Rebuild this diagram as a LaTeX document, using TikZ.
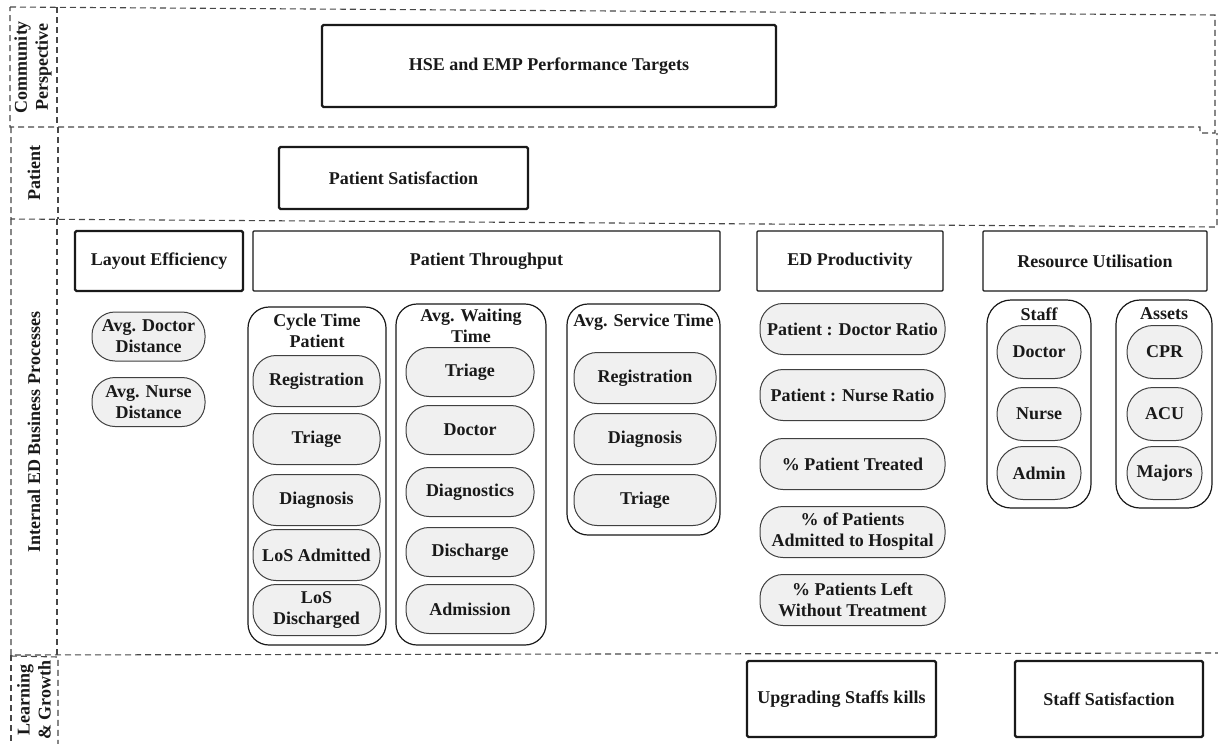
\documentclass[tikz,border=0pt]{standalone}
\usepackage{fontspec}
\setmainfont{Liberation Serif}
\begin{document}
\begin{tikzpicture}[x=1pt,y=-1pt,
  every node/.style={font=\fontsize{18}{21}\selectfont\bfseries, text=black!90, inner sep=0pt, align=center},
  band/.style={draw=black!72, line width=1.1pt, dash pattern=on 6pt off 4pt},
  heavybox/.style={draw=black!90, line width=2.2pt, rounded corners=1.5pt},
  lightbox/.style={draw=black!90, line width=1.3pt, rounded corners=1pt},
  group/.style={draw=black!90, line width=1.2pt, rounded corners=21pt},
  pill/.style={draw=black!75, line width=1pt, fill=black!6, rounded corners=23pt},
  lane/.style={rotate=90}]
\useasboundingbox (0,0) rectangle (1218,744);

% perspective bands
\draw[band] (10,7) -- (1215,15) -- (1215,133) -- (1200,133) -- (1200,127) -- (10,127) -- cycle;
\draw[band] (57,7) -- (57,127);
\draw[band] (11,127) -- (11,219) -- (1217,227) -- (1217,133);
\draw[band] (58,127) -- (58,219);
\draw[band] (11,219) -- (11,655) -- (1218,653);
\draw[band] (57,219) -- (57,655);
\draw[band] (11,655) -- (11,744);
\draw[band] (11,656) -- (58,657) -- (58,744);

% band titles
\node[lane] (lcom) at (33,67) {Community\\Perspective};
\node[lane] (lpat) at (34,173) {Patient};
\node[lane] (lint) at (34,432) {Internal ED Business Processes};
\node[lane] (llg)  at (34,700) {Learning\\\& Growth};

% objectives
\node[heavybox, minimum width=454, minimum height=82] (hse) at (549,66) {HSE and EMP Performance Targets};
\node[heavybox, minimum width=249, minimum height=62] (psat) at (403.5,178) {Patient Satisfaction};
\node[heavybox, minimum width=168, minimum height=60] (lay) at (159,261) {Layout Efficiency};
\node[lightbox, minimum width=467, minimum height=60] (thr) at (486.5,261) {Patient Throughput};
\node[lightbox, minimum width=186, minimum height=60] (edp) at (850,261) {ED Productivity};
\node[lightbox, minimum width=224, minimum height=60] (res) at (1095,261) {Resource Utilisation};
\node[heavybox, minimum width=189, minimum height=76] (upg) at (841.5,699) {Upgrading Staffs kills};
\node[heavybox, minimum width=188, minimum height=76] (ssat) at (1109,699) {Staff Satisfaction};

% layout measures
\node[pill, minimum width=113, minimum height=49] (ldoc) at (148.5,336.5) {Avg. Doctor\\Distance};
\node[pill, minimum width=113, minimum height=49] (lnur) at (148.5,402) {Avg. Nurse\\Distance};

% throughput groups
\node[group, minimum width=138, minimum height=338] (ct) at (317,476) {};
\node (ctt) at (317,331) {Cycle Time\\Patient};
\node[group, minimum width=150, minimum height=341] (wt) at (471,474.5) {};
\node (wtt) at (471,326) {Avg. Waiting\\Time};
\node[group, minimum width=153, minimum height=231] (st) at (643.5,419.5) {};
\node (stt) at (643.5,322) {Avg. Service Time};

\foreach \y/\t/\n in {381/Registration/1, 439/Triage/2, 500/Diagnosis/3, 555/LoS Admitted/4, 610/LoS\\Discharged/5}
  \node[pill, minimum width=127, minimum height=51] (ct\n) at (316.5,\y) {\t};
\foreach \y/\t/\n in {372/Triage/1, 430/Doctor/2, 492/Diagnostics/3, 552/Discharge/4, 609/Admission/5}
  \node[pill, minimum width=128, minimum height=49] (wt\n) at (470,\y) {\t};
\foreach \y/\t/\n in {378/Registration/1, 439/Diagnosis/2, 500/Triage/3}
  \node[pill, minimum width=142, minimum height=51] (st\n) at (645,\y) {\t};

% productivity measures
\foreach \y/\t/\n in {329/Patient : Doctor Ratio/1, 395/Patient : Nurse Ratio/2, 464/\% Patient Treated/3,
    532/\% of Patients\\Admitted to Hospital/4, 600/\% Patients Left\\Without Treatment/5}
  \node[pill, minimum width=185, minimum height=51] (ed\n) at (852.5,\y) {\t};

% resource groups
\node[group, rounded corners=24pt, minimum width=104, minimum height=208] (staff) at (1039,404) {};
\node (stafft) at (1039,314) {Staff};
\node[group, rounded corners=24pt, minimum width=96, minimum height=208] (assets) at (1164,404) {};
\node (assetst) at (1164,314) {Assets};
\foreach \y/\t/\n in {352/Doctor/1, 414/Nurse/2, 473/Admin/3}
  \node[pill, rounded corners=26pt, minimum width=84, minimum height=53] (sf\n) at (1039,\y) {\t};
\foreach \y/\t/\n in {352/CPR/1, 414/ACU/2, 473/Majors/3}
  \node[pill, rounded corners=26pt, minimum width=75, minimum height=53] (as\n) at (1164.5,\y) {\t};
\end{tikzpicture}
\end{document}
